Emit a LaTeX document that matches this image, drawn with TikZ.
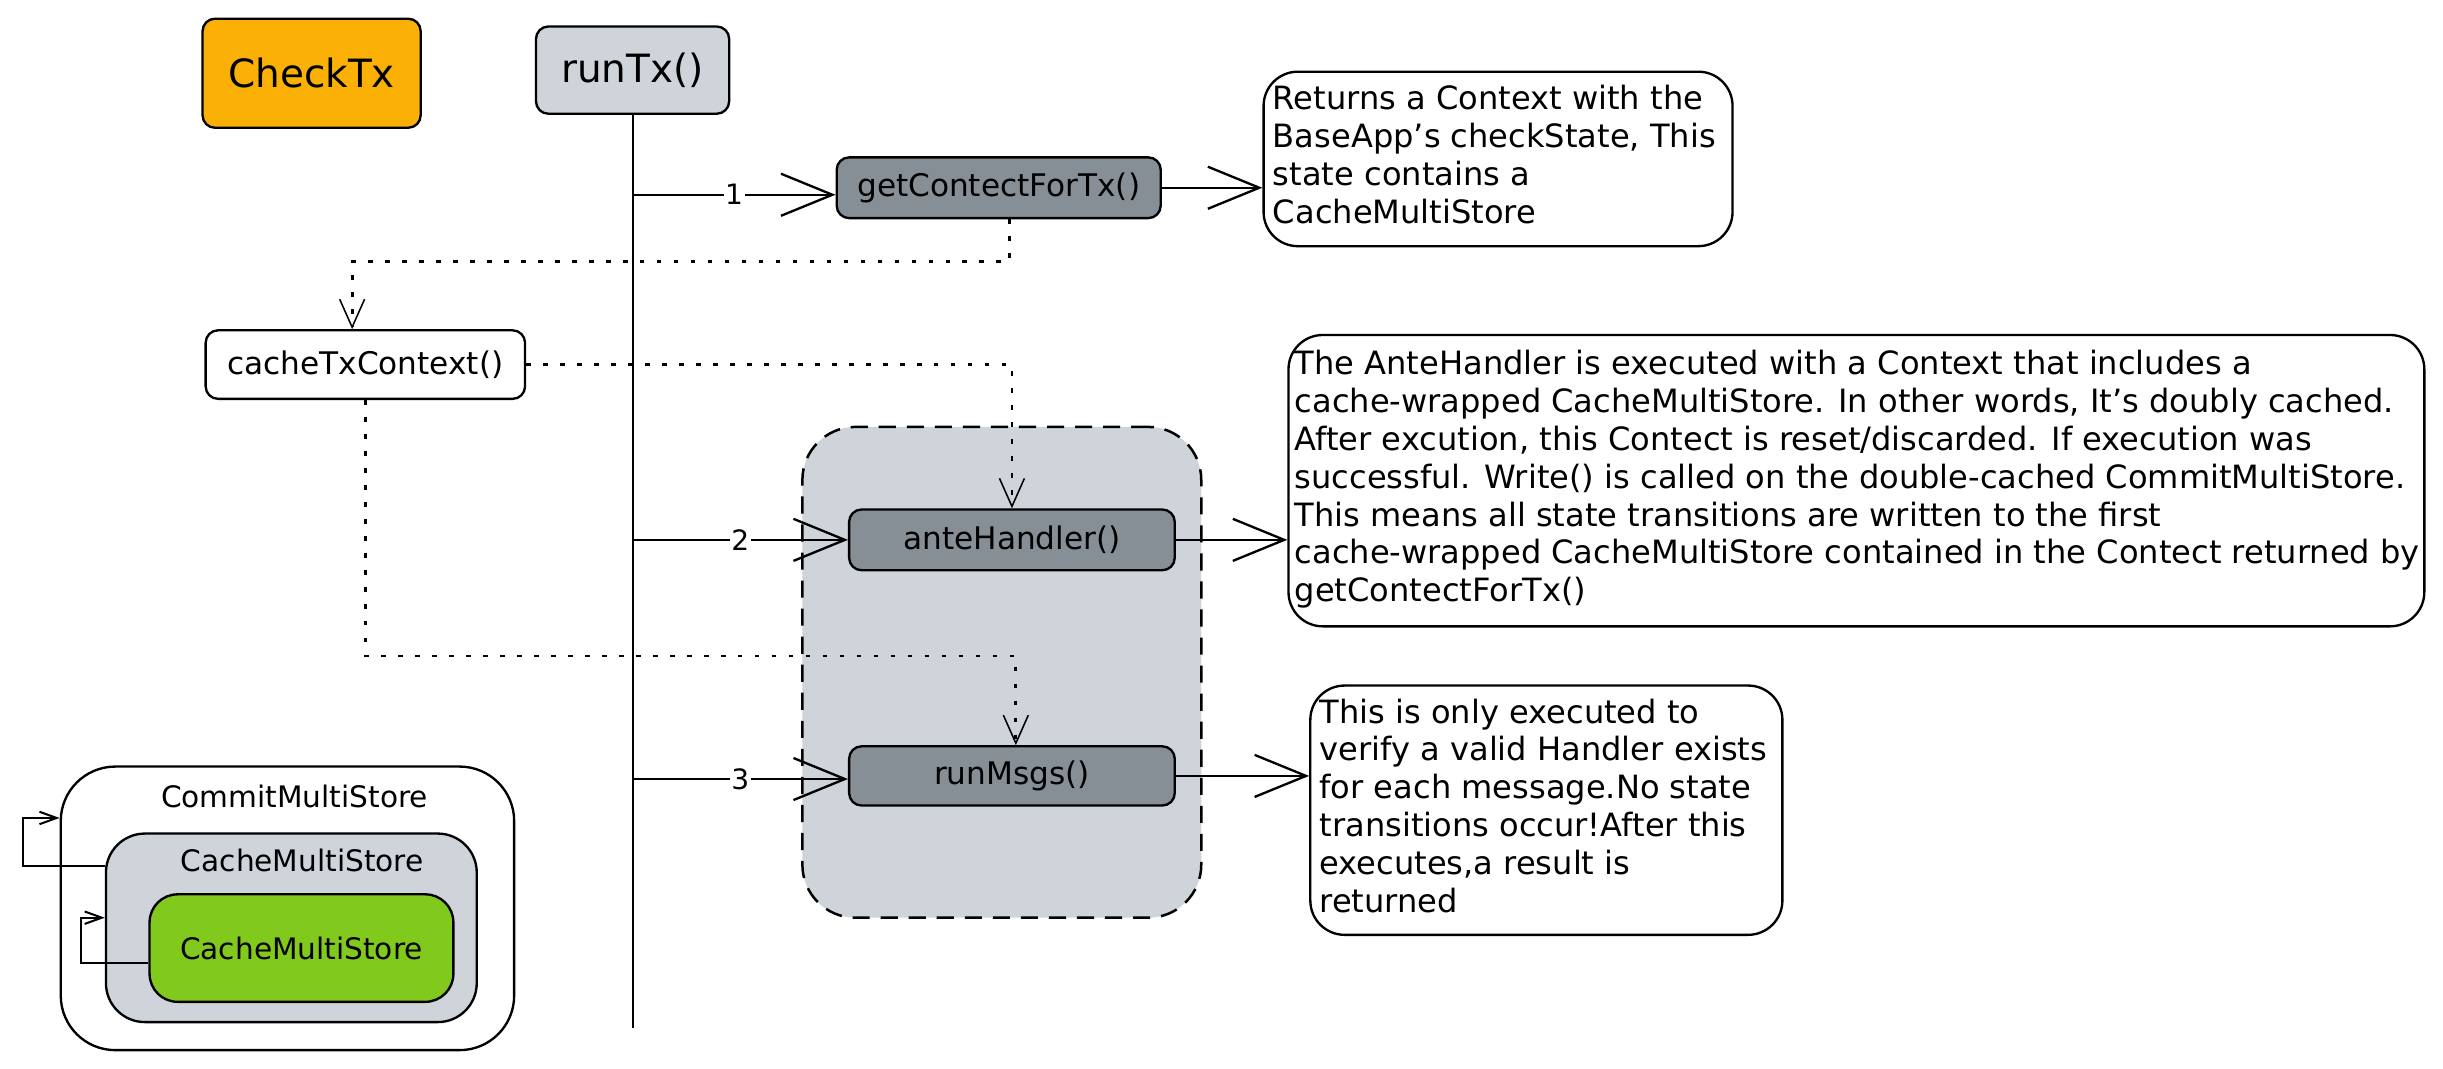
\documentclass[tikz,border=0pt]{standalone}
\usepackage{fontspec}
\setmainfont{DejaVu Sans}
\usetikzlibrary{arrows.meta}
\definecolor{orng}{HTML}{FAB005}
\definecolor{lgray}{HTML}{CED4DA}
\definecolor{dgray}{HTML}{868E96}
\definecolor{grn}{HTML}{82C91E}
\newcommand{\notetext}[2]{\makebox[#1][l]{\begin{tabular}{@{}l@{}}#2\end{tabular}}}
\tikzset{
  plainbox/.style={draw, line width=1.5pt, rounded corners=8pt, inner sep=0pt, font=\fontsize{20}{24}\selectfont},
  fnbox/.style={plainbox, fill=dgray},
  notebox/.style={draw, line width=1.5pt, rounded corners=22pt, fill=white, inner ysep=0pt, font=\fontsize{20.6}{24.3}\selectfont},
  bigarrow/.style={line width=1.5pt, -{Straight Barb[length=33pt,width=27pt,line width=1.5pt]}},
  dotline/.style={line width=1.8pt, dash pattern=on 3pt off 7.9pt},
  dotarrow/.style={dotline, -{Straight Barb[length=18pt,width=16pt,line width=1pt]}},
  numlbl/.style={fill=white, inner sep=1pt, font=\fontsize{18}{20}\selectfont},
  selfarrow/.style={line width=1.3pt, -{Straight Barb[length=11pt,width=8pt,line width=1.3pt]}},
  lifeline/.style={line width=1.3pt},
  storelbl/.style={inner sep=0pt, font=\fontsize{19}{22}\selectfont},
}
\begin{document}
\begin{tikzpicture}[x=1pt, y=-1pt]
\useasboundingbox (0,0) rectangle (1568,686);
\fill[white] (0,0) rectangle (1568,686);

% header boxes
\node[plainbox, fill=orng, minimum width=140pt, minimum height=70pt, font=\fontsize{25}{30}\selectfont] (checktx) at (200,47) {CheckTx};
\node[plainbox, fill=lgray, minimum width=124pt, minimum height=56pt, font=\fontsize{25}{30}\selectfont] (runtx) at (406,45) {runTx()};

% lifeline
\coordinate (lifeend) at (406,660);
\draw[lifeline] (runtx.south) -- (lifeend);

% dashed group
\node[draw, fill=lgray, line width=1.6pt, dash pattern=on 11pt off 7pt, rounded corners=34pt, minimum width=256pt, minimum height=315pt] (grp) at (643,431.5) {};

% function boxes
\node[fnbox, minimum width=208pt, minimum height=39pt] (getc) at (641,120.5) {getContectForTx()};
\node[plainbox, fill=white, minimum width=205pt, minimum height=44pt] (cachetx) at (234.5,234) {cacheTxContext()};
\node[fnbox, minimum width=209pt, minimum height=39pt] (ante) at (649.5,346.5) {anteHandler()};
\node[fnbox, minimum width=209pt, minimum height=38pt] (rm) at (649.5,498) {runMsgs()};

% notes
\node[notebox, minimum width=301pt, minimum height=112pt, inner xsep=6pt] (ret) at (961.5,102)
  {\notetext{289pt}{Returns a Context with the\\BaseApp's checkState, This\\state contains a\\CacheMultiStore}};
\node[notebox, minimum width=729pt, minimum height=187pt, inner xsep=4pt] (anote) at (1191.5,308.5)
  {\notetext{721pt}{The AnteHandler is executed with a Context that includes a\\cache-wrapped CacheMultiStore. In other words, It's doubly cached.\\After excution, this Contect is reset/discarded. If execution was\\successful. Write() is called on the double-cached CommitMultiStore.\\This means all state transitions are written to the first\\cache-wrapped CacheMultiStore contained in the Contect returned by\\getContectForTx()}};
\node[notebox, minimum width=303pt, minimum height=160pt, inner xsep=6pt] (rnote) at (992.5,520)
  {\notetext{291pt}{This is only executed to\\verify a valid Handler exists\\for each message.No state\\transitions occur!After this\\executes,a result is\\returned}};

% numbered calls
\coordinate (l1) at (406,125);
\coordinate (l2) at (406,346.5);
\coordinate (l3) at (406,500);
\draw[bigarrow] (l1) -- node[numlbl]{1} (l1 -| getc.west);
\draw[bigarrow] (l2) -- node[numlbl]{2} (l2 -| ante.west);
\draw[bigarrow] (l3) -- node[numlbl]{3} (l3 -| rm.west);

% results to notes
\draw[bigarrow] (getc.east) -- (getc.east -| ret.west);
\draw[bigarrow] (ante.east) -- (ante.east -| anote.west);
\draw[bigarrow] (rm.east) -- (rm.east -| rnote.west);

% dotted context flow
\coordinate (d1) at (648,168);
\coordinate (d2) at (226,168);
\draw[dotarrow] (getc.south -| d1) -- (d1) -- (d2) -- (d2 |- cachetx.north);
\draw[dotarrow] (cachetx.east) -| (ante.north);
\coordinate (d3) at (652,421);
\draw[dotarrow] (cachetx.south) |- (d3) -- (d3 |- rm.north);

% stores
\node[draw, fill=white, line width=1.5pt, rounded corners=35pt, minimum width=291pt, minimum height=182pt] (outer) at (184.5,583) {};
\node[storelbl] (outerlbl) at (189,511) {CommitMultiStore};
\node[draw, fill=lgray, line width=1.5pt, rounded corners=25pt, minimum width=238pt, minimum height=121pt] (mid) at (187,595.5) {};
\node[storelbl] (midlbl) at (194,552) {CacheMultiStore};
\node[draw, fill=grn, line width=1.5pt, rounded corners=18pt, minimum width=195pt, minimum height=69pt, storelbl] (inner) at (193.5,608.5) {CacheMultiStore};

\coordinate (m1) at (15,556);
\coordinate (m2) at (15,525);
\draw[selfarrow] (m1 -| mid.west) -- (m1) -- (m2) -- (m2 -| outer.west);
\coordinate (n1) at (52,618);
\coordinate (n2) at (52,589);
\draw[selfarrow] (n1 -| inner.west) -- (n1) -- (n2) -- (n2 -| mid.west);
\end{tikzpicture}
\end{document}
